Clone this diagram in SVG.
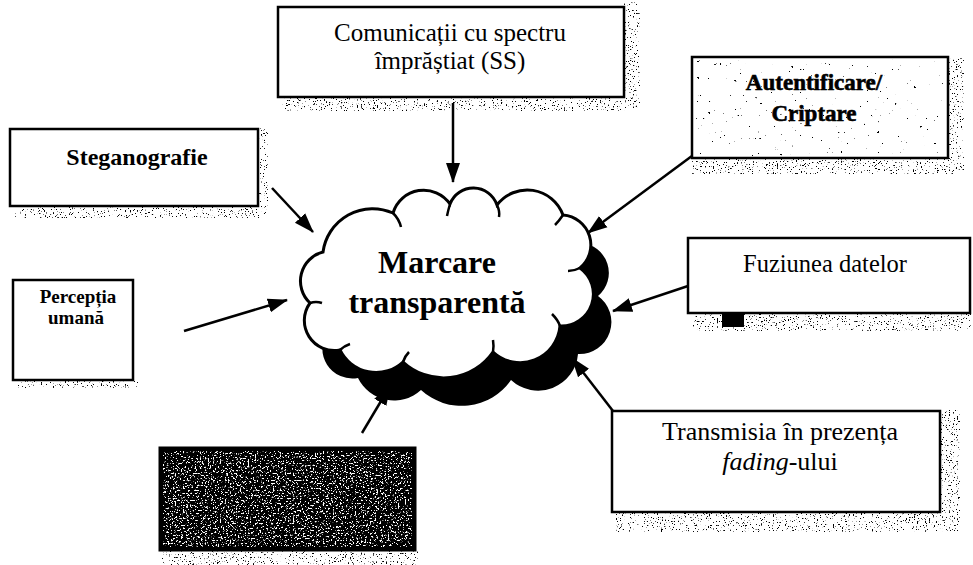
<svg xmlns="http://www.w3.org/2000/svg" width="973" height="565" viewBox="0 0 973 565">
  <defs>
    <marker id="arrow" markerUnits="userSpaceOnUse" markerWidth="20" markerHeight="16" refX="19" refY="8" orient="auto">
      <path d="M0,1 L20,8 L0,15 Z" fill="#000"/>
    </marker>
    <!-- grainy print texture for the cast shadows -->
    <filter id="speckle" x="0" y="0" width="1" height="1">
      <feTurbulence type="fractalNoise" baseFrequency="0.75" numOctaves="2" seed="4" result="n"/>
      <feColorMatrix in="n" type="matrix" values="0 0 0 0 0  0 0 0 0 0  0 0 0 0 0  -14 0 0 0 5.0" result="dots"/>
      <feComposite in="dots" in2="SourceGraphic" operator="in"/>
    </filter>
    <filter id="speckleSparse" x="0" y="0" width="1" height="1">
      <feTurbulence type="fractalNoise" baseFrequency="0.35" numOctaves="3" seed="21" result="n"/>
      <feColorMatrix in="n" type="matrix" values="0 0 0 0 0  0 0 0 0 0  0 0 0 0 0  -24 0 0 0 5.6" result="dots"/>
      <feComposite in="dots" in2="SourceGraphic" operator="in"/>
    </filter>
    <filter id="speckleDense" x="0" y="0" width="1" height="1">
      <feTurbulence type="fractalNoise" baseFrequency="0.5" numOctaves="3" seed="9" result="n"/>
      <feColorMatrix in="n" type="matrix" values="0 0 0 0 0  0 0 0 0 0  0 0 0 0 0  -12 0 0 0 6.2" result="dots"/>
      <feComposite in="dots" in2="SourceGraphic" operator="in"/>
    </filter>
    <filter id="speckleLight" x="0" y="0" width="1" height="1">
      <feTurbulence type="fractalNoise" baseFrequency="0.6" numOctaves="3" seed="11" result="n"/>
      <feColorMatrix in="n" type="matrix" values="0 0 0 0 1  0 0 0 0 1  0 0 0 0 1  -12 0 0 0 5.0" result="dots"/>
      <feComposite in="dots" in2="SourceGraphic" operator="in"/>
    </filter>
    <path id="cloudShape" d="M 323 252 A 50 50 0 0 1 393 213 A 32 32 0 0 1 450 204 A 25 25 0 0 1 497 205 A 38 38 0 0 1 563 215 A 30 30 0 0 1 580 268 A 32 32 0 0 1 560 326 A 40 40 0 0 1 493 352 A 60 60 0 0 1 403 362 A 40 40 0 0 1 340 350 A 30 30 0 0 1 310 303 A 30 30 0 0 1 323 252 Z"/>
  </defs>
  <style>
    .box { fill: #fff; stroke: #000; stroke-width: 2.5; }
    .shadow { fill: #000; filter: url(#speckle); }
    .lbl { fill: #000; text-anchor: middle; }
    .bold { font-weight: bold; }
    .conn { stroke: #000; stroke-width: 2.5; fill: none; marker-end: url(#arrow); }
    .curl { stroke: #000; stroke-width: 2.5; fill: none; }
  </style>

  <rect width="973" height="565" fill="#fff"/>

  <g font-family="'Liberation Serif', 'DejaVu Serif', serif">
  <!-- central cloud with its solid drop shadow -->
  <g id="cloud">
    <use href="#cloudShape" transform="translate(18,28)" fill="#000"/>
    <use href="#cloudShape" fill="#fff" stroke="#000" stroke-width="3"/>
    <path class="curl" d="M 393 213 q 6 6 8 14"/>
    <path class="curl" d="M 450 204 q -2 7 -3 12"/>
    <path class="curl" d="M 497 205 q 3 6 2 12"/>
    <path class="curl" d="M 563 215 q -4 6 -8 10"/>
    <path class="curl" d="M 580 268 q -6 3 -12 3"/>
    <path class="curl" d="M 560 326 q -2 -6 -8 -12"/>
    <path class="curl" d="M 493 352 q 1 -6 0 -12"/>
    <path class="curl" d="M 403 362 q 2 -6 6 -10"/>
    <path class="curl" d="M 340 350 q 4 -4 10 -6"/>
    <path class="curl" d="M 310 303 q 6 -2 12 0"/>
    <text class="lbl bold" x="437" y="273" font-size="32">Marcare</text>
    <text class="lbl bold" x="437" y="313" font-size="32">transparentă</text>
  </g>

  <g id="connectors">
    <line class="conn" x1="453" y1="103" x2="453" y2="182"/>
    <line class="conn" x1="272" y1="188" x2="313" y2="232"/>
    <line class="conn" x1="700" y1="150" x2="588" y2="233"/>
    <line class="conn" x1="688" y1="286" x2="613" y2="311"/>
    <line class="conn" x1="613" y1="411" x2="572" y2="358"/>
    <line class="conn" x1="184" y1="331" x2="287" y2="300"/>
    <line class="conn" x1="362" y1="433" x2="390" y2="386"/>
  </g>

  <g id="node-ss">
    <rect class="shadow" x="282" y="98" width="350" height="13"/>
    <rect class="shadow" x="622" y="2" width="18" height="106" filter="url(#speckleDense)"/>
    <rect x="278" y="7" width="346" height="90" class="box"/>
    <text class="lbl" x="450" y="41" font-size="25">Comunicații cu spectru</text>
    <text class="lbl" x="450" y="69" font-size="25">împrăștiat (SS)</text>
  </g>

  <g id="node-steganografie">
    <rect class="shadow" x="14" y="206" width="250" height="12"/>
    <rect class="shadow" x="256" y="128" width="12" height="86"/>
    <rect x="10" y="129" width="248" height="77" class="box"/>
    <text class="lbl bold" x="137" y="165" font-size="24">Steganografie</text>
  </g>

  <g id="node-autentificare">
    <rect class="shadow" x="692" y="156" width="262" height="18" filter="url(#speckleDense)"/>
    <rect class="shadow" x="944" y="58" width="20" height="112" filter="url(#speckleDense)"/>
    <rect x="692" y="57" width="256" height="101" class="box"/>
    <rect x="694" y="59" width="252" height="97" fill="#000" filter="url(#speckleSparse)"/>
    <text class="lbl bold" x="814" y="90" font-size="23" stroke="#000" stroke-width="0.6">Autentificare/</text>
    <text class="lbl bold" x="814" y="121" font-size="23" stroke="#000" stroke-width="0.6">Criptare</text>
  </g>

  <g id="node-fuziune">
    <rect class="shadow" x="692" y="313" width="280" height="18"/>
    <rect x="722" y="313" width="22" height="14" fill="#000"/>
    <rect x="688" y="238" width="282" height="75" class="box"/>
    <text class="lbl" x="825" y="272" font-size="24.5">Fuziunea datelor</text>
  </g>

  <g id="node-transmisia">
    <rect class="shadow" x="616" y="512" width="345" height="20"/>
    <rect class="shadow" x="938" y="410" width="22" height="110"/>
    <rect x="612" y="411" width="328" height="101" class="box"/>
    <text class="lbl" x="780" y="440" font-size="26">Transmisia în prezența</text>
    <text class="lbl" x="780" y="470" font-size="26"><tspan font-style="italic">fading</tspan>-ului</text>
  </g>

  <g id="node-perceptia">
    <rect class="shadow" x="16" y="380" width="122" height="8"/>
    <rect x="13" y="280" width="120" height="100" class="box" stroke-width="3"/>
    <text class="lbl bold" x="78" y="303" font-size="19">Percepția</text>
    <text class="lbl bold" x="76" y="324" font-size="19">umană</text>
  </g>

  <g id="node-dark">
    <rect class="shadow" x="162" y="548" width="256" height="17" filter="url(#speckleDense)"/>
    <rect x="160" y="448" width="255" height="102" fill="#000" stroke="#000" stroke-width="3"/>
    <rect x="163" y="451" width="249" height="96" fill="#fff" filter="url(#speckleLight)"/>
  </g>
  </g>
</svg>
